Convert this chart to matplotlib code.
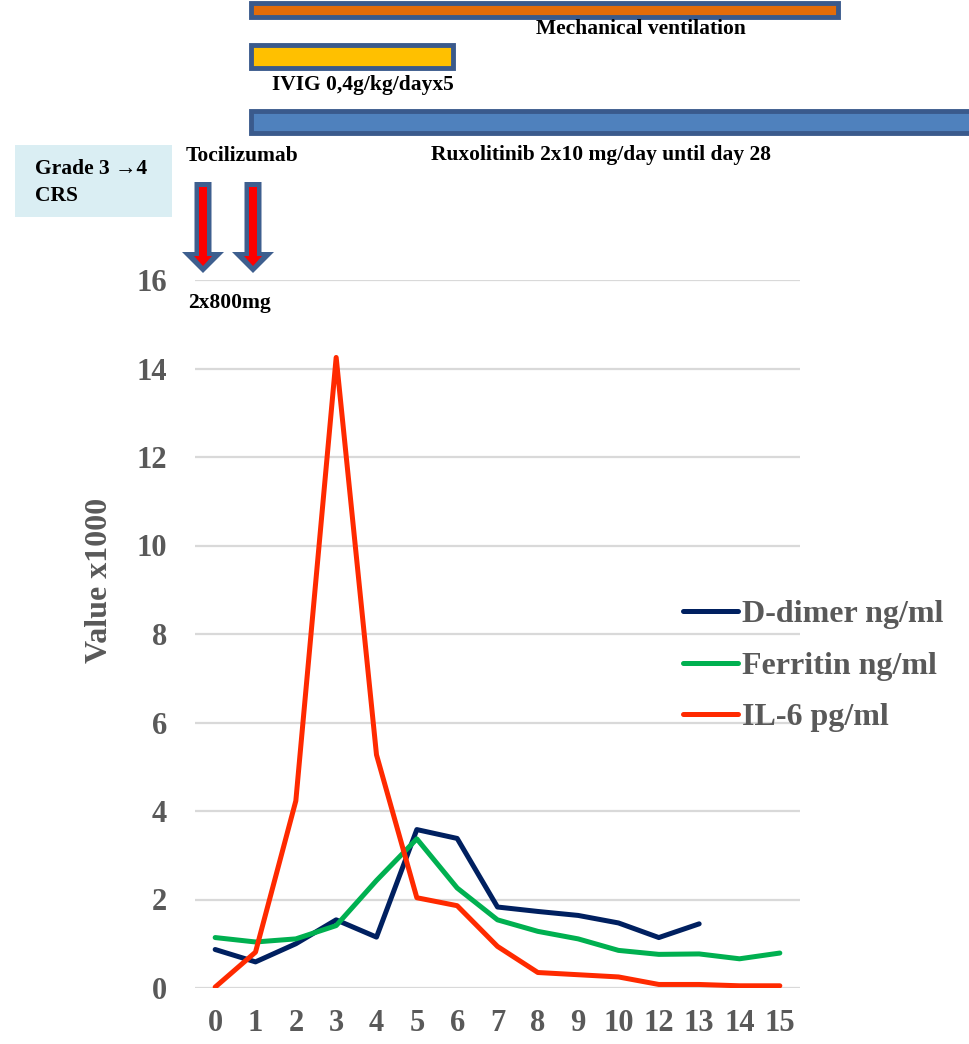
import matplotlib
matplotlib.use("Agg")
import matplotlib.pyplot as plt
from matplotlib.patches import Rectangle, Polygon

# ---- data ----
days = ['0', '1', '2', '3', '4', '5', '6', '7', '8', '9', '10', '12', '13', '14', '15']
d_dimer = [0.87, 0.59, 1.00, 1.54, 1.15, 3.58, 3.38, 1.83, 1.73, 1.64, 1.47, 1.14, 1.45]
ferritin = [1.14, 1.04, 1.11, 1.41, 2.43, 3.37, 2.26, 1.54, 1.28, 1.11, 0.85, 0.76, 0.77, 0.66, 0.79]
il6 = [0.02, 0.81, 4.23, 14.25, 5.27, 2.04, 1.86, 0.94, 0.35, 0.30, 0.25, 0.08, 0.08, 0.05, 0.05]
series_names = ['D-dimer ng/ml', 'Ferritin ng/ml', 'IL-6 pg/ml']
series_colors = ['#002060', '#00b050', '#ff2a00']
y_ticks = [0, 2, 4, 6, 8, 10, 12, 14, 16]

W, H = 970, 1044
fig = plt.figure(figsize=(W / 100, H / 100), dpi=100)
serif = ['Liberation Serif', 'DejaVu Serif']
grey = '#595959'

ax = fig.add_axes([195 / W, (H - 988) / H, 605 / W, 708 / H])
x = list(range(len(days)))
for vals, name, col in zip([d_dimer, ferritin, il6], series_names, series_colors):
    ax.plot(x[:len(vals)], vals, color=col, lw=3.6, label=name,
            solid_capstyle='round', solid_joinstyle='round', zorder=3)
ax.set_xlim(-0.5, len(days) - 0.5)
ax.set_ylim(0, 16)
ax.set_yticks(y_ticks)
ax.set_yticklabels([str(v) for v in y_ticks])
ax.set_xticks(x)
ax.set_xticklabels(days)
ax.grid(axis='y', color='#d9d9d9', lw=1.6, zorder=0)
ax.set_axisbelow(True)
for s in ax.spines.values():
    s.set_visible(False)
ax.tick_params(axis='both', length=0, labelcolor=grey, labelsize=22)
ax.tick_params(axis='x', pad=15)
ax.tick_params(axis='y', pad=20)
for lab in ax.get_xticklabels() + ax.get_yticklabels():
    lab.set_family(serif)
    lab.set_fontweight('bold')

fig.text(100 / W, 1 - 580 / H, 'Value x1000', rotation=90, ha='center', va='center',
         family=serif, fontweight='bold', fontsize=23, color=grey)

leg = ax.legend(loc='upper left', bbox_to_anchor=(683 / W, 1 - 600 / H),
                bbox_transform=fig.transFigure, frameon=False,
                prop={'family': serif, 'weight': 'bold', 'size': 23},
                handlelength=1.72, handletextpad=0.13, labelspacing=0.69,
                borderaxespad=0, borderpad=0)
for t in leg.get_texts():
    t.set_color(grey)

# ---- overlay for timeline annotations (pixel coordinates) ----
ov = fig.add_axes([0, 0, 1, 1], facecolor='none')
ov.set_xlim(0, W)
ov.set_ylim(H, 0)
ov.axis('off')

border = '#3a5a8c'

def bar(x0, x1, y0, y1, fill):
    ov.add_patch(Rectangle((x0, y0), x1 - x0, y1 - y0, facecolor=fill,
                           edgecolor=border, lw=3.5, zorder=2))

bar(251, 838, 3, 17, '#e36c09')
bar(251, 453, 45, 68, '#ffc000')
bar(251, 975, 111, 133, '#4f81bd')

tkw = dict(family=serif, fontweight='bold', fontsize=15.5, color='black', zorder=5)
ov.text(641, 29, 'Mechanical ventilation', ha='center', va='center', **tkw)
ov.text(272, 85, 'IVIG 0,4g/kg/dayx5', ha='left', va='center', **tkw)
ov.text(601, 155, 'Ruxolitinib 2x10 mg/day until day 28', ha='center', va='center', **tkw)
ov.text(186, 156, 'Tocilizumab', ha='left', va='center', **tkw)
ov.text(188, 303, '2x800mg', ha='left', va='center', **tkw)

ov.add_patch(Rectangle((15, 145), 157, 72, facecolor='#daeef3', edgecolor='none', zorder=1))
ov.text(35, 169, 'Grade 3 \u21924', ha='left', va='center',
        **{**tkw, 'family': ['Liberation Serif', 'DejaVu Sans']})
ov.text(35, 196, 'CRS', ha='left', va='center', **tkw)

def arrow(cx):
    outer = [(cx - 8.5, 182), (cx + 8.5, 182), (cx + 8.5, 252), (cx + 21, 252),
             (cx, 273), (cx - 21, 252), (cx - 8.5, 252)]
    ov.add_patch(Polygon(outer, closed=True, facecolor='#3e5f8f', edgecolor='none', zorder=4))
    inner = [(cx - 4, 187), (cx + 4, 187), (cx + 4, 256), (cx + 9, 256),
             (cx, 266), (cx - 9, 256), (cx - 4, 256)]
    ov.add_patch(Polygon(inner, closed=True, facecolor='#ff0000', edgecolor='none', zorder=5))

arrow(203)
arrow(253)

fig.savefig('out.png', dpi=100)
